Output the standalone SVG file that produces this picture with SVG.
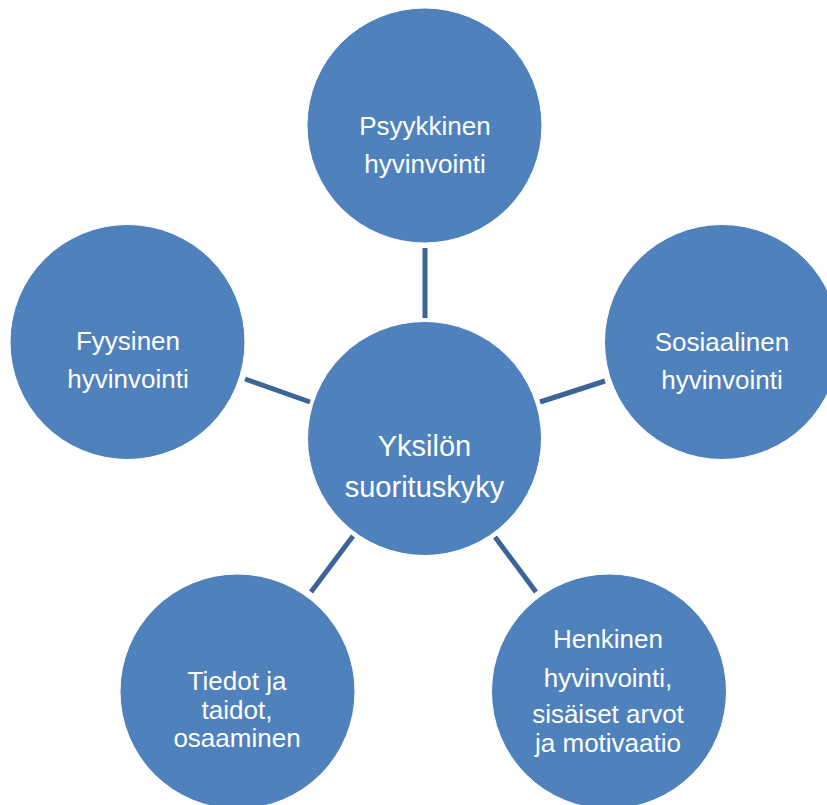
<svg xmlns="http://www.w3.org/2000/svg" width="827" height="805" viewBox="0 0 827 805">
<style>
.node{fill:#4F81BD;stroke:#FFFFFF;stroke-width:1}
.lbl{font-family:"Liberation Sans",Arial,sans-serif;font-size:26px;fill:#FFFFFF;text-anchor:middle}
.big{font-size:29px}
.con{stroke:#3C6496;stroke-width:5;fill:none}
</style>
<rect width="827" height="805" fill="#FFFFFF"/>
<g id="connectors">
<line class="con" x1="425" y1="248" x2="425" y2="318"/>
<line class="con" x1="245" y1="379" x2="310" y2="402"/>
<line class="con" x1="540" y1="402" x2="605" y2="381"/>
<line class="con" x1="353" y1="536" x2="311" y2="592"/>
<line class="con" x1="495" y1="537" x2="536" y2="592"/>
</g>
<g id="psyykkinen">
<circle class="node" cx="424.5" cy="125.5" r="117.5"/>
<text class="lbl" x="425" y="135">Psyykkinen</text>
<text class="lbl" x="425" y="173">hyvinvointi</text>
</g>
<g id="fyysinen">
<circle class="node" cx="127.5" cy="342" r="117.5"/>
<text class="lbl" x="128" y="350">Fyysinen</text>
<text class="lbl" x="128" y="388">hyvinvointi</text>
</g>
<g id="sosiaalinen">
<circle class="node" cx="722" cy="342" r="117.5"/>
<text class="lbl" x="722" y="351">Sosiaalinen</text>
<text class="lbl" x="722" y="389">hyvinvointi</text>
</g>
<g id="yksilon">
<circle class="node" cx="424.5" cy="438.5" r="117"/>
<text class="lbl big" x="424.5" y="456">Yksilön</text>
<text class="lbl big" x="424.5" y="497">suorituskyky</text>
</g>
<g id="tiedot">
<circle class="node" cx="237.5" cy="691.5" r="117.5"/>
<text class="lbl" x="237" y="690">Tiedot ja</text>
<text class="lbl" x="237" y="719">taidot,</text>
<text class="lbl" x="237" y="747">osaaminen</text>
</g>
<g id="henkinen">
<circle class="node" cx="609" cy="691.5" r="117.5"/>
<text class="lbl" x="608" y="648">Henkinen</text>
<text class="lbl" x="608" y="687">hyvinvointi,</text>
<text class="lbl" x="608" y="723">sisäiset arvot</text>
<text class="lbl" x="608" y="752">ja motivaatio</text>
</g>
</svg>
